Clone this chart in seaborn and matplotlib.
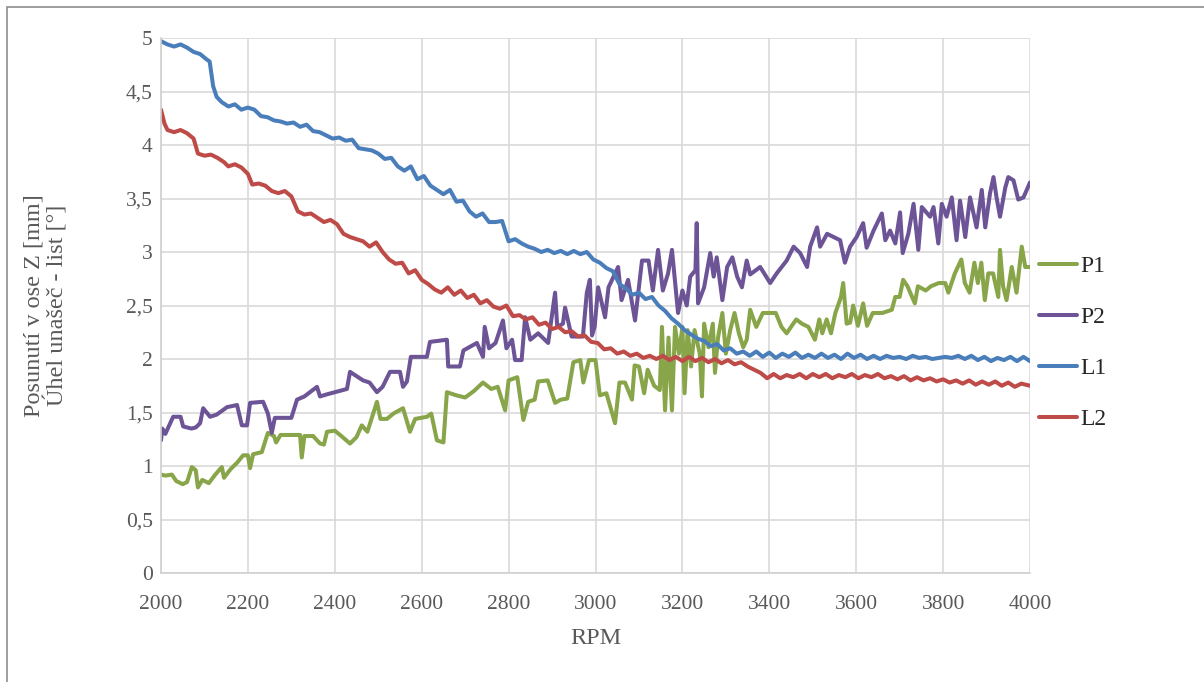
import numpy as np
import pandas as pd
import matplotlib
matplotlib.use("Agg")
import matplotlib.pyplot as plt
import seaborn as sns

# P1 (zelena)
p1_rpm = [2000, 2010, 2025, 2035, 2050, 2060, 2071, 2080, 2085, 2095, 2110, 2125, 2140, 2145, 2160, 2175,
          2189, 2200, 2205, 2212, 2232, 2246, 2260, 2265, 2275, 2300, 2320, 2324, 2330, 2350, 2366, 2375,
          2382, 2400, 2415, 2435, 2450, 2462, 2475, 2497, 2505, 2520, 2535, 2557, 2573, 2585, 2612, 2622,
          2635, 2650, 2658, 2680, 2700, 2720, 2741, 2760, 2775, 2792, 2800, 2820, 2834, 2845, 2860, 2868,
          2890, 2907, 2920, 2935, 2949, 2965, 2972, 2985, 3000, 3010, 3025, 3045, 3055, 3068, 3084, 3090,
          3100, 3112, 3120, 3135, 3148, 3153, 3160, 3168, 3176, 3183, 3192, 3200, 3205, 3212, 3220, 3228,
          3240, 3245, 3250, 3260, 3270, 3275, 3282, 3292, 3300, 3310, 3320, 3330, 3340, 3348, 3356, 3370,
          3385, 3400, 3415, 3428, 3440, 3450, 3462, 3475, 3490, 3505, 3515, 3522, 3532, 3542, 3552, 3565,
          3570, 3578, 3586, 3593, 3604, 3616, 3625, 3638, 3660, 3682, 3690, 3700, 3708, 3718, 3735, 3742,
          3760, 3772, 3790, 3805, 3812, 3827, 3842, 3850, 3861, 3872, 3880, 3888, 3896, 3904, 3915, 3927,
          3931, 3938, 3946, 3958, 3969, 3981, 3989, 4000]
p1_val = [0.92, 0.91, 0.92, 0.86, 0.83, 0.85, 0.99, 0.96, 0.80, 0.87, 0.84, 0.92, 0.99, 0.89, 0.97, 1.03,
          1.10, 1.10, 0.98, 1.11, 1.13, 1.31, 1.28, 1.22, 1.29, 1.29, 1.29, 1.08, 1.28, 1.28, 1.21, 1.20,
          1.32, 1.33, 1.28, 1.21, 1.27, 1.38, 1.32, 1.60, 1.44, 1.44, 1.49, 1.54, 1.32, 1.44, 1.46, 1.49,
          1.24, 1.22, 1.69, 1.66, 1.64, 1.70, 1.78, 1.72, 1.74, 1.52, 1.80, 1.83, 1.43, 1.60, 1.62, 1.79,
          1.80, 1.59, 1.62, 1.63, 1.97, 1.99, 1.78, 1.99, 1.99, 1.66, 1.68, 1.40, 1.78, 1.78, 1.62, 1.94,
          1.93, 1.68, 1.90, 1.75, 1.71, 2.30, 1.52, 2.20, 1.52, 2.30, 2.05, 2.30, 1.68, 2.27, 1.93, 2.27,
          2.05, 1.65, 2.33, 2.11, 2.33, 1.87, 2.20, 2.43, 2.05, 2.27, 2.43, 2.24, 2.11, 2.18, 2.46, 2.30,
          2.43, 2.43, 2.43, 2.30, 2.24, 2.30, 2.37, 2.33, 2.30, 2.18, 2.37, 2.24, 2.37, 2.24, 2.43, 2.58,
          2.71, 2.33, 2.34, 2.50, 2.31, 2.52, 2.31, 2.43, 2.43, 2.46, 2.58, 2.58, 2.74, 2.68, 2.52, 2.68,
          2.64, 2.68, 2.71, 2.71, 2.62, 2.80, 2.93, 2.71, 2.62, 2.90, 2.71, 2.90, 2.55, 2.80, 2.80, 2.58,
          3.02, 2.68, 2.55, 2.86, 2.62, 3.05, 2.86, 2.86]

# P2 (fialova)
p2_rpm = [2000, 2003, 2010, 2028, 2045, 2051, 2070, 2080, 2090, 2097, 2113, 2128, 2152, 2175, 2186, 2198,
          2205, 2235, 2246, 2255, 2262, 2300, 2313, 2330, 2359, 2366, 2382, 2410, 2428, 2435, 2450, 2465,
          2480, 2497, 2510, 2527, 2550, 2557, 2566, 2575, 2612, 2619, 2658, 2661, 2688, 2696, 2727, 2741,
          2745, 2755, 2770, 2787, 2795, 2808, 2815, 2830, 2838, 2850, 2868, 2891, 2907, 2912, 2925, 2930,
          2945, 2971, 2980, 2987, 2992, 2998, 3006, 3022, 3030, 3052, 3060, 3075, 3091, 3107, 3122, 3132,
          3144, 3155, 3167, 3176, 3190, 3200, 3210, 3218, 3230, 3233, 3236, 3250, 3264, 3272, 3279, 3292,
          3303, 3315, 3326, 3337, 3348, 3356, 3379, 3402, 3417, 3440, 3456, 3471, 3487, 3494, 3510, 3517,
          3533, 3548, 3563, 3574, 3586, 3601, 3616, 3624, 3640, 3659, 3667, 3678, 3690, 3701, 3707, 3720,
          3732, 3743, 3751, 3770, 3778, 3789, 3797, 3808, 3820, 3831, 3839, 3851, 3862, 3877, 3889, 3897,
          3908, 3916, 3923, 3931, 3943, 3950, 3962, 3973, 3985, 4000]
p2_val = [1.24, 1.35, 1.30, 1.46, 1.46, 1.37, 1.35, 1.36, 1.40, 1.54, 1.46, 1.48, 1.55, 1.57, 1.38, 1.38,
          1.59, 1.60, 1.49, 1.31, 1.45, 1.45, 1.62, 1.65, 1.74, 1.65, 1.67, 1.70, 1.72, 1.88, 1.84, 1.80,
          1.78, 1.69, 1.74, 1.88, 1.88, 1.74, 1.79, 2.02, 2.02, 2.16, 2.18, 1.93, 1.93, 2.08, 2.15, 2.02,
          2.30, 2.10, 2.15, 2.36, 2.10, 2.18, 1.99, 1.99, 2.39, 2.18, 2.24, 2.15, 2.62, 2.30, 2.33, 2.48,
          2.21, 2.21, 2.62, 2.74, 2.22, 2.30, 2.67, 2.39, 2.67, 2.86, 2.55, 2.74, 2.36, 2.92, 2.92, 2.64,
          3.02, 2.64, 2.80, 3.02, 2.43, 2.64, 2.50, 2.77, 2.83, 3.27, 2.52, 2.67, 2.99, 2.77, 2.95, 2.55,
          2.86, 2.95, 2.77, 2.67, 2.92, 2.79, 2.86, 2.71, 2.80, 2.92, 3.05, 2.99, 2.86, 3.05, 3.23, 3.05,
          3.17, 3.14, 3.11, 2.90, 3.05, 3.14, 3.27, 3.04, 3.20, 3.36, 3.11, 3.20, 3.08, 3.37, 2.99, 3.17,
          3.45, 3.02, 3.42, 3.33, 3.42, 3.08, 3.45, 3.33, 3.51, 3.11, 3.48, 3.14, 3.51, 3.23, 3.58, 3.23,
          3.55, 3.70, 3.51, 3.33, 3.60, 3.70, 3.67, 3.49, 3.51, 3.65]

# L1 (modra)
l1_rpm = [2000, 2015, 2030, 2045, 2060, 2075, 2090, 2105, 2112, 2120, 2128, 2140, 2155, 2170, 2185, 2200,
          2215, 2230, 2245, 2260, 2275, 2290, 2305, 2320, 2335, 2350, 2365, 2380, 2395, 2410, 2425, 2440,
          2455, 2470, 2485, 2500, 2515, 2530, 2545, 2560, 2575, 2590, 2605, 2620, 2635, 2650, 2665, 2680,
          2695, 2710, 2725, 2740, 2755, 2770, 2785, 2800, 2815, 2830, 2845, 2860, 2875, 2890, 2905, 2920,
          2935, 2950, 2965, 2980, 2995, 3010, 3025, 3040, 3055, 3070, 3085, 3100, 3115, 3130, 3145, 3160,
          3175, 3190, 3205, 3220, 3235, 3250, 3265, 3280, 3295, 3310, 3325, 3340, 3355, 3370, 3385, 3400,
          3415, 3430, 3445, 3460, 3475, 3490, 3505, 3520, 3535, 3550, 3565, 3580, 3595, 3610, 3625, 3640,
          3655, 3670, 3685, 3700, 3715, 3730, 3745, 3760, 3775, 3790, 3805, 3820, 3835, 3850, 3865, 3880,
          3895, 3910, 3925, 3940, 3955, 3970, 3985, 4000]
l1_val = [4.97, 4.94, 4.92, 4.94, 4.91, 4.87, 4.85, 4.80, 4.78, 4.55, 4.45, 4.40, 4.36, 4.38, 4.33, 4.35,
          4.33, 4.27, 4.26, 4.23, 4.22, 4.20, 4.21, 4.17, 4.19, 4.13, 4.12, 4.09, 4.06, 4.07, 4.04, 4.05,
          3.97, 3.96, 3.95, 3.92, 3.87, 3.88, 3.80, 3.76, 3.80, 3.68, 3.71, 3.62, 3.58, 3.54, 3.58, 3.47,
          3.48, 3.38, 3.33, 3.36, 3.28, 3.28, 3.29, 3.10, 3.12, 3.08, 3.05, 3.03, 3.00, 3.02, 2.99, 3.01,
          2.98, 3.01, 2.98, 3.00, 2.93, 2.90, 2.85, 2.82, 2.70, 2.66, 2.60, 2.62, 2.56, 2.58, 2.50, 2.45,
          2.38, 2.33, 2.27, 2.23, 2.19, 2.17, 2.12, 2.14, 2.08, 2.10, 2.05, 2.07, 2.03, 2.07, 2.02, 2.06,
          2.01, 2.05, 2.02, 2.06, 2.01, 2.04, 2.01, 2.05, 2.01, 2.04, 2.00, 2.05, 2.01, 2.04, 2.00, 2.03,
          2.00, 2.03, 2.01, 2.02, 2.00, 2.03, 2.01, 2.02, 2.00, 2.01, 2.02, 2.01, 2.03, 2.00, 2.03, 1.99,
          2.02, 1.98, 2.01, 1.99, 2.02, 1.98, 2.02, 1.98]

# L2 (cervena)
l2_rpm = [2000, 2008, 2015, 2030, 2045, 2060, 2075, 2085, 2100, 2115, 2130, 2145, 2155, 2170, 2185, 2200,
          2210, 2225, 2240, 2255, 2270, 2285, 2300, 2315, 2330, 2345, 2360, 2375, 2390, 2405, 2420, 2435,
          2450, 2465, 2480, 2495, 2510, 2525, 2540, 2555, 2570, 2585, 2600, 2615, 2630, 2645, 2660, 2675,
          2690, 2705, 2720, 2735, 2750, 2765, 2780, 2795, 2810, 2825, 2840, 2855, 2870, 2885, 2900, 2915,
          2930, 2945, 2960, 2975, 2990, 3005, 3020, 3035, 3050, 3065, 3080, 3095, 3110, 3125, 3140, 3155,
          3170, 3185, 3200, 3215, 3230, 3245, 3260, 3275, 3290, 3305, 3320, 3335, 3350, 3365, 3380, 3395,
          3410, 3425, 3440, 3455, 3470, 3485, 3500, 3515, 3530, 3545, 3560, 3575, 3590, 3605, 3620, 3635,
          3650, 3665, 3680, 3695, 3710, 3725, 3740, 3755, 3770, 3785, 3800, 3815, 3830, 3845, 3860, 3875,
          3890, 3905, 3920, 3935, 3950, 3965, 3980, 4000]
l2_val = [4.33, 4.20, 4.14, 4.12, 4.14, 4.11, 4.06, 3.92, 3.90, 3.91, 3.88, 3.84, 3.80, 3.82, 3.79, 3.73,
          3.63, 3.64, 3.62, 3.57, 3.55, 3.57, 3.52, 3.38, 3.35, 3.36, 3.32, 3.28, 3.30, 3.26, 3.17, 3.14,
          3.12, 3.10, 3.05, 3.09, 3.00, 2.93, 2.89, 2.90, 2.80, 2.83, 2.74, 2.70, 2.65, 2.62, 2.67, 2.60,
          2.64, 2.57, 2.60, 2.52, 2.55, 2.49, 2.47, 2.50, 2.40, 2.41, 2.37, 2.39, 2.32, 2.34, 2.28, 2.30,
          2.25, 2.26, 2.21, 2.22, 2.16, 2.15, 2.09, 2.10, 2.05, 2.07, 2.03, 2.05, 2.01, 2.03, 2.00, 2.03,
          1.99, 2.02, 1.98, 2.02, 1.98, 2.01, 1.97, 2.00, 1.96, 1.99, 1.95, 1.97, 1.93, 1.90, 1.87, 1.82,
          1.86, 1.82, 1.85, 1.83, 1.86, 1.82, 1.86, 1.83, 1.86, 1.82, 1.85, 1.83, 1.86, 1.82, 1.85, 1.83,
          1.86, 1.82, 1.84, 1.81, 1.84, 1.80, 1.83, 1.80, 1.82, 1.79, 1.81, 1.78, 1.80, 1.77, 1.80, 1.76,
          1.79, 1.76, 1.79, 1.75, 1.78, 1.74, 1.77, 1.75]

series_names = ["P1", "P2", "L1", "L2"]
colors = ["#88a54a", "#6c5497", "#4a7ebb", "#be4b48"]

df = pd.concat([
    pd.DataFrame({"RPM": p1_rpm, "val": p1_val, "serie": "P1"}),
    pd.DataFrame({"RPM": p2_rpm, "val": p2_val, "serie": "P2"}),
    pd.DataFrame({"RPM": l1_rpm, "val": l1_val, "serie": "L1"}),
    pd.DataFrame({"RPM": l2_rpm, "val": l2_val, "serie": "L2"}),
])

sns.set_style("white")
plt.rcParams['font.family'] = ['Liberation Serif', 'DejaVu Serif']

fig = plt.figure(figsize=(12.04, 6.82), dpi=100)
ax = fig.add_axes([161/1204, 1 - 573/682, (1030-161)/1204, (573-38)/682])

sns.lineplot(data=df, x="RPM", y="val", hue="serie", hue_order=series_names,
             palette=colors, estimator=None, sort=True, linewidth=2.9, ax=ax)

ax.set_xlim(2000, 4000)
ax.set_ylim(0, 5)
ax.set_xticks(range(2000, 4001, 200))
yt = np.arange(0, 5.01, 0.5)
ax.set_yticks(yt)
ax.set_yticklabels([("%g" % t).replace(".", ",") for t in yt])
ax.grid(True, color="#d9d9d9", linewidth=1.2)
ax.set_axisbelow(True)
for s in ["top", "right"]:
    ax.spines[s].set_visible(False)
for s in ["left", "bottom"]:
    ax.spines[s].set_color("#d0d0d0")
    ax.spines[s].set_linewidth(1.2)
ax.tick_params(axis="x", length=0, labelsize=15.5, labelcolor="#595959", pad=16)
ax.tick_params(axis="y", length=0, labelsize=15.5, labelcolor="#595959", pad=6)

ax.set_xlabel("RPM", fontsize=17.5, color="#595959", labelpad=10)
ax.set_ylabel("Posunutí v ose Z [mm]\nÚhel unašeč - list [°]", fontsize=17.5,
              color="#595959", labelpad=41, linespacing=1.0)

ax.legend(loc="center left", bbox_to_anchor=(1.0, 0.43), frameon=False, fontsize=17,
          handlelength=1.6, labelspacing=1.25, handletextpad=0.15, borderaxespad=0.0)

# ramecek grafu
fig.add_artist(plt.Rectangle((7/1204, -0.05), 1.2, 1.05 - 7/682, transform=fig.transFigure,
                             fill=False, edgecolor="#8c8c8c", linewidth=1.2))

fig.savefig("out.png", dpi=100)
